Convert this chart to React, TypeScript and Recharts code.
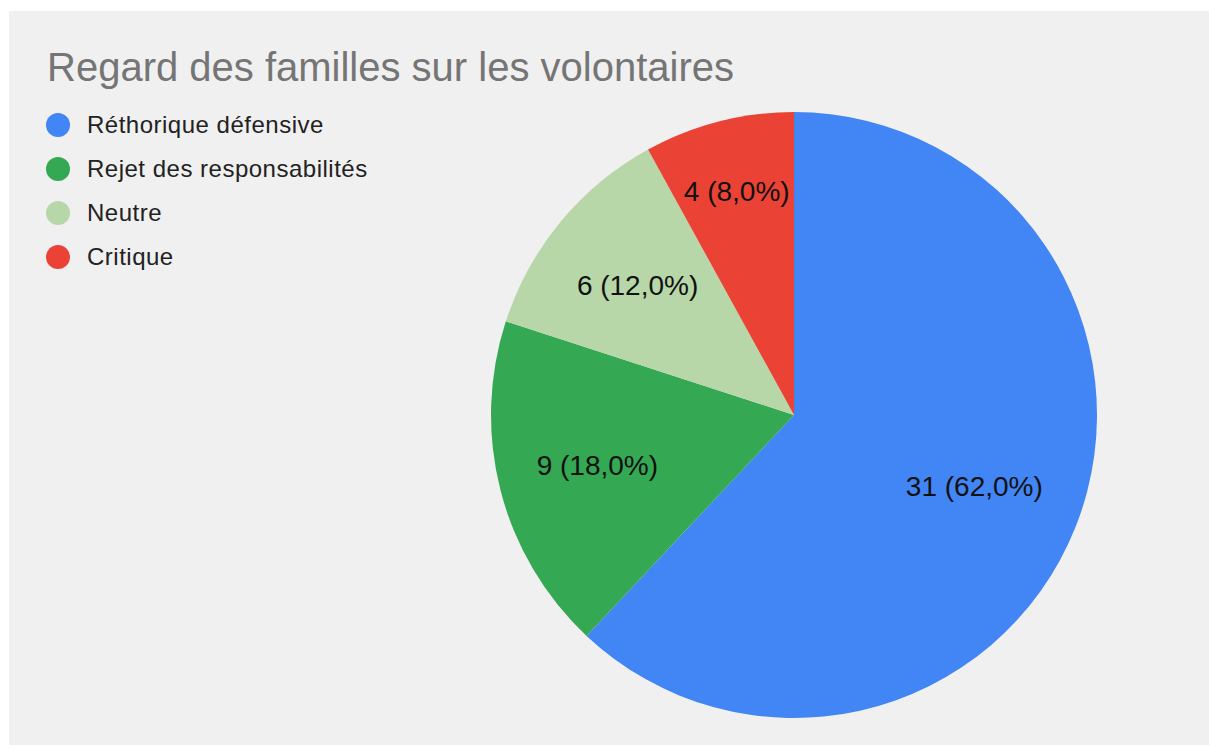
import React from "react";
import { PieChart, Pie, Cell } from "recharts";

const categories = ["Réthorique défensive", "Rejet des responsabilités", "Neutre", "Critique"];
const counts = [31, 9, 6, 4];
const colors = ["#4285f4", "#34a853", "#b7d7a8", "#ea4335"];
const labelRadiusFactors = [0.64, 0.67, 0.67, 0.76];
const title = "Regard des familles sur les volontaires";

const total = counts.reduce((a, b) => a + b, 0);
const data = categories.map((name, i) => ({ name, value: counts[i] }));

const FONT = "'Liberation Sans', Arial, sans-serif";
const RAD = Math.PI / 180;

const renderLabel = (props: any) => {
  const { cx, cy, midAngle, outerRadius, index, value } = props;
  const r = outerRadius * labelRadiusFactors[index];
  const x = cx + r * Math.cos(-midAngle * RAD);
  const y = cy + r * Math.sin(-midAngle * RAD);
  const pct = ((value / total) * 100).toFixed(1).replace(".", ",");
  return (
    <text
      x={x}
      y={y}
      fill="#111"
      fontSize={28}
      fontFamily={FONT}
      textAnchor="middle"
      dominantBaseline="central"
    >
      {`${value} (${pct}%)`}
    </text>
  );
};

export default function App() {
  return (
    <div
      style={{
        position: "absolute",
        left: 9,
        top: 11,
        width: 1200,
        height: 734,
        background: "#f0f0f0",
      }}
    >
      <div
        style={{
          position: "absolute",
          left: 38,
          top: 32,
          fontFamily: FONT,
          fontSize: 40,
          color: "#757575",
          whiteSpace: "nowrap",
          lineHeight: "48px",
        }}
      >
        {title}
      </div>
      <div style={{ position: "absolute", left: 37, top: 92, fontFamily: FONT }}>
        {categories.map((c, i) => (
          <div key={c} style={{ display: "flex", alignItems: "center", height: 44 }}>
            <span
              style={{
                width: 24,
                height: 24,
                borderRadius: 12,
                background: colors[i],
                display: "inline-block",
                marginRight: 17,
              }}
            />
            <span style={{ fontSize: 24, color: "#222", letterSpacing: 0.5, whiteSpace: "nowrap" }}>{c}</span>
          </div>
        ))}
      </div>
      <PieChart
        width={1200}
        height={734}
        margin={{ top: 0, right: 0, bottom: 0, left: 0 }}
        style={{ position: "absolute", left: 0, top: 0 }}
      >
        <Pie
          data={data}
          dataKey="value"
          nameKey="name"
          cx={785}
          cy={404}
          outerRadius={303}
          startAngle={90}
          endAngle={-270}
          stroke="none"
          labelLine={false}
          label={renderLabel}
          isAnimationActive={false}
        >
          {data.map((d, i) => (
            <Cell key={d.name} fill={colors[i]} />
          ))}
        </Pie>
      </PieChart>
    </div>
  );
}
